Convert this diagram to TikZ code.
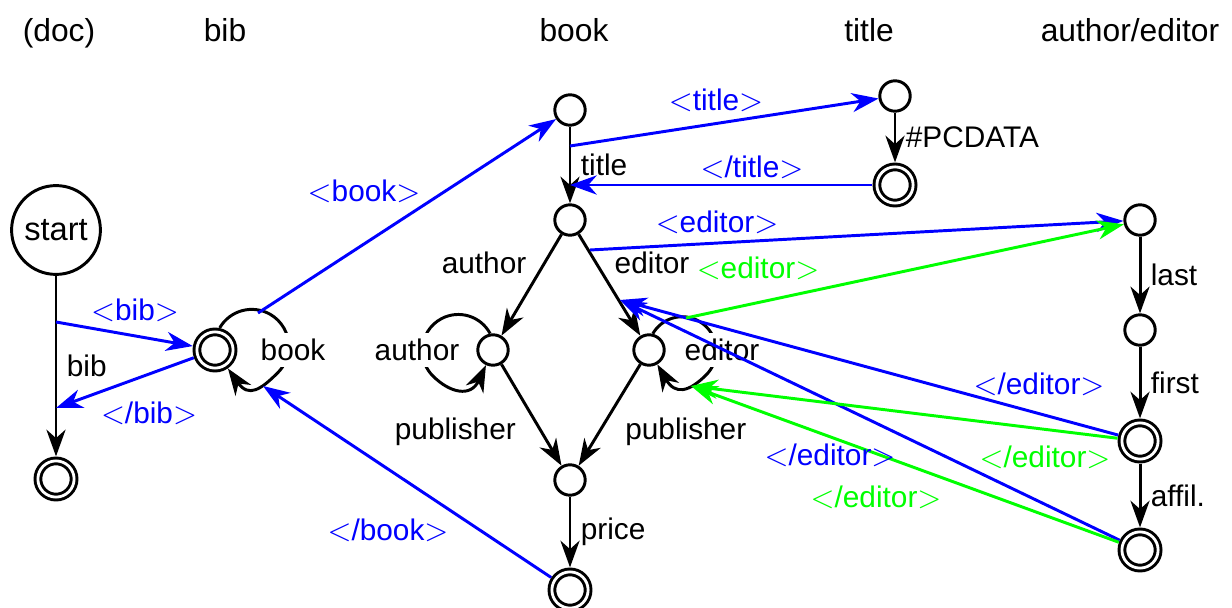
\documentclass[tikz,border=0pt]{standalone}
\usepackage{fontspec}
\setmainfont{Liberation Sans}
\usetikzlibrary{arrows.meta}

\begin{document}
\begin{tikzpicture}[x=0.0125cm, y=0.0125cm, line width=1.05pt,
    >={Stealth[length=9.5pt, width=6.8pt, inset=3pt]},
    state/.style={circle, draw, inner sep=0pt, minimum size=0.38cm},
    accept/.style={state, double, double distance=1pt, minimum size=0.4525cm, outer sep=1.6pt},
    head/.style={anchor=base, font=\fontsize{11.3}{13}\selectfont},
    lbl/.style={font=\fontsize{10.6}{12}\selectfont},
    loopbox/.style={lbl, fill=white, inner sep=2pt},
    loopend/.style={out distance=0.3cm, in distance=0.45cm}]
      \useasboundingbox (0,0) rectangle (1232,-608);

      \node[head] (h-doc) at (59,-42) {(doc)};
      \node[head] (h-bib) at (225,-42) {bib};
      \node[head] (h-book) at (574,-42) {book};
      \node[head] (h-title) at (869,-42) {title};
      \node[head] (h-ae) at (1130,-42) {author/editor};

      \node[state, font=\fontsize{11.6}{13}\selectfont, minimum size=1.11cm] (start) at (56,-230) {start};
      \node[accept] (docend) at (56,-479) {};
      \node[accept] (bib) at (215,-350) {};
      \node[state] (booktop) at (570,-110) {};
      \node[state] (ttl) at (570,-220) {};
      \node[state] (auth) at (493,-350) {};
      \node[state] (edit) at (649,-350) {};
      \node[state] (price) at (570,-480) {};
      \node[accept] (bookend) at (570,-590) {};
      \node[state] (ttltop) at (895,-96) {};
      \node[accept] (ttlend) at (895,-185) {};
      \node[state] (ae1) at (1140,-220) {};
      \node[state] (ae2) at (1140,-330) {};
      \node[accept] (ae3) at (1140,-441) {};
      \node[accept] (ae4) at (1140,-550) {};

      \coordinate (c-bibin) at (56,-322);
      \coordinate (c-bibout) at (56,-408);
      \coordinate (c-bookin) at (258,-313);
      \coordinate (c-bookout) at (263,-386);
      \coordinate (c-ttlin) at (570,-146);
      \coordinate (c-ttlout) at (570,-185);
      \coordinate (c-edin) at (590,-250);
      \coordinate (c-edtip) at (620,-300);
      \coordinate (c-edloop) at (686,-318);
      \coordinate (c-edret) at (691,-386);

      \draw[->] (start) -- node[lbl, right] (l-bib) {bib} (docend);
      \draw[->] (booktop) -- node[lbl, right] (l-title) {title} (ttl);
      \draw[->] (ttl) -- node[lbl, above left, xshift=2pt] (l-author) {author} (auth);
      \draw[->] (ttl) -- node[lbl, above right, xshift=-2pt] (l-editor) {editor} (edit);
      \draw[->] (auth) -- node[lbl, pos=0.42, below left] (l-pub1) {publisher} (price);
      \draw[->] (edit) -- node[lbl, pos=0.42, below right] (l-pub2) {publisher} (price);
      \draw[->] (price) -- node[lbl, right] (l-price) {price} (bookend);
      \draw[->] (ttltop) -- node[lbl, right] (l-pcdata) {\#PCDATA} (ttlend);
      \draw[->] (ae1) -- node[lbl, right] (l-last) {last} (ae2);
      \draw[->] (ae2) -- node[lbl, right] (l-first) {first} (ae3);
      \draw[->] (ae3) -- node[lbl, right] (l-affil) {affil.} (ae4);

      \draw[->] (bib.78) arc[start angle=150, end angle=-45, radius=0.4625cm] to[out=225, in=-55, loopend] (bib.-55);
      \draw[->] (auth.100) arc[start angle=28, end angle=225, radius=0.45cm] to[out=-45, in=-115, loopend] (auth.-115);
      \draw[->] (edit.77) arc[start angle=150, end angle=-45, radius=0.425cm] to[out=225, in=-60, loopend] (edit.-60);
      \node[loopbox] (l-bookloop) at (293,-350) {book};
      \node[loopbox] (l-authloop) at (417,-350) {author};
      \node[loopbox] (l-editloop) at (722,-350) {editor};

      \draw[->, blue] (c-bibin) -- (bib);
      \draw[->, blue] (bib) -- (c-bibout);
      \draw[->, blue] (c-bookin) -- (booktop);
      \draw[->, blue] (bookend) -- (c-bookout);
      \draw[->, blue] (c-ttlin) -- (ttltop);
      \draw[->, blue] (ttlend) -- (c-ttlout);
      \draw[->, blue] (c-edin) -- (ae1);
      \draw[->, blue] (ae3) -- (c-edtip);
      \draw[->, blue] (ae4) -- (c-edtip);
      \draw[->, green] (c-edloop) -- (ae1.195);
      \draw[->, green] (ae3) -- (c-edret);
      \draw[->, green] (ae4) -- (c-edret);

      \node[lbl, blue] (t-bib) at (135,-310) {$<$bib$>$};
      \node[lbl, blue] (t-ebib) at (149,-413) {$<$/bib$>$};
      \node[lbl, blue] (t-book) at (364,-191) {$<$book$>$};
      \node[lbl, blue] (t-ebook) at (388,-530) {$<$/book$>$};
      \node[lbl, blue] (t-title) at (716,-100) {$<$title$>$};
      \node[lbl, blue] (t-etitle) at (752,-167) {$<$/title$>$};
      \node[lbl, blue] (t-ed) at (717,-222) {$<$editor$>$};
      \node[lbl, blue] (t-eed1) at (1039,-384) {$<$/editor$>$};
      \node[lbl, blue] (t-eed2) at (830,-455) {$<$/editor$>$};
      \node[lbl, green] (g-ed) at (758,-268) {$<$editor$>$};
      \node[lbl, green] (g-eed1) at (1045,-457) {$<$/editor$>$};
      \node[lbl, green] (g-eed2) at (876,-497) {$<$/editor$>$};
\end{tikzpicture}
\end{document}
